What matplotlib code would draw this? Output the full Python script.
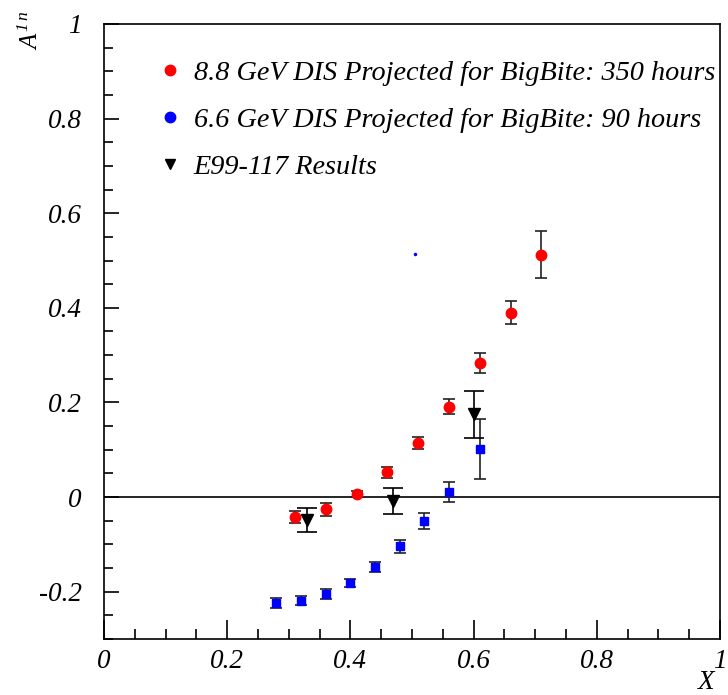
import matplotlib
matplotlib.use('Agg')
import matplotlib.pyplot as plt
from matplotlib.lines import Line2D
from matplotlib.ticker import MultipleLocator

plt.rcParams['font.family'] = ['Liberation Serif', 'DejaVu Serif']
plt.rcParams['font.style'] = 'italic'
plt.rcParams['mathtext.fontset'] = 'custom'
plt.rcParams['mathtext.it'] = 'Liberation Serif:italic'
plt.rcParams['mathtext.rm'] = 'Liberation Serif:italic'

# 8.8 GeV projection (red)
x_88 = [0.31, 0.36, 0.41, 0.46, 0.51, 0.56, 0.61, 0.66, 0.71]
y_88 = [-0.042, -0.026, 0.006, 0.052, 0.114, 0.191, 0.283, 0.390, 0.512]
e_88 = [0.012, 0.013, 0.006, 0.011, 0.013, 0.016, 0.021, 0.025, 0.050]

# 6.6 GeV projection (blue)
x_66 = [0.28, 0.32, 0.36, 0.40, 0.44, 0.48, 0.52, 0.56, 0.61]
y_66 = [-0.224, -0.219, -0.205, -0.182, -0.148, -0.104, -0.051, 0.010, 0.102]
e_66 = [0.011, 0.010, 0.011, 0.009, 0.011, 0.014, 0.017, 0.021, 0.064]

# E99-117 results
x_e99 = [0.33, 0.47, 0.60]
y_e99 = [-0.048, -0.008, 0.175]
e_e99 = [0.025, 0.027, 0.050]

# stray blue dot
x_dot = [0.505]
y_dot = [0.513]

labels = ['8.8 GeV DIS Projected for BigBite: 350 hours',
          '6.6 GeV DIS Projected for BigBite: 90 hours',
          'E99-117 Results']

xticks = [0, 0.2, 0.4, 0.6, 0.8, 1.0]
xtick_labels = ['0', '0.2', '0.4', '0.6', '0.8', '1']
yticks = [-0.2, 0, 0.2, 0.4, 0.6, 0.8, 1.0]
ytick_labels = ['-0.2', '0', '0.2', '0.4', '0.6', '0.8', '1']

fig = plt.figure(figsize=(7.28, 6.95), dpi=100)
ax = fig.add_axes([0.1429, 0.0806, 0.846, 0.8849])

ax.axhline(0, color='black', lw=1.2, zorder=1)

ax.errorbar(x_88, y_88, yerr=e_88, fmt='o', color='red', ms=7.5, mec='red',
            ecolor='#222222', elinewidth=1.2, capsize=4, capthick=1.2, zorder=3)
ax.errorbar(x_66, y_66, yerr=e_66, fmt='s', color='blue', ms=6, mec='blue',
            ecolor='#222222', elinewidth=1.2, capsize=4, capthick=1.2, zorder=3)
ax.errorbar(x_e99, y_e99, yerr=e_e99, fmt='v', color='black', ms=9,
            ecolor='black', elinewidth=1.2, capsize=7, capthick=1.2, zorder=4)
ax.plot(x_dot, y_dot, 'o', color='blue', ms=1.5)

ax.set_xlim(0, 1)
ax.set_ylim(-0.3, 1)
ax.set_xticks(xticks)
ax.set_xticklabels(xtick_labels)
ax.set_yticks(yticks)
ax.set_yticklabels(ytick_labels)
ax.xaxis.set_minor_locator(MultipleLocator(0.05))
ax.yaxis.set_minor_locator(MultipleLocator(0.05))
ax.tick_params(axis='both', which='both', direction='in', top=False, right=False,
               labelsize=19.5, width=1.2)
ax.tick_params(axis='x', which='major', length=14, pad=7)
ax.tick_params(axis='x', which='minor', length=7)
ax.tick_params(axis='y', which='major', length=11, pad=16)
ax.tick_params(axis='y', which='minor', length=6.5)
for s in ax.spines.values():
    s.set_linewidth(1.2)

fig.text(0.982, 0.0, 'X', fontsize=19.5, ha='right', va='bottom')
fig.text(0.042, 0.985, r'$A^{1\,n}$', fontsize=18, rotation=90, ha='center', va='top')

handles = [Line2D([], [], ls='none', marker='o', color='red', ms=7.5),
           Line2D([], [], ls='none', marker='o', color='blue', ms=7.5),
           Line2D([], [], ls='none', marker='v', color='black', ms=7.5)]
ax.legend(handles, labels, loc='upper left', bbox_to_anchor=(0.07, 0.96),
          frameon=False, fontsize=20.3, handlelength=0.8, handletextpad=0.45,
          labelspacing=0.76, borderaxespad=0)

fig.savefig('out.png', dpi=100)
